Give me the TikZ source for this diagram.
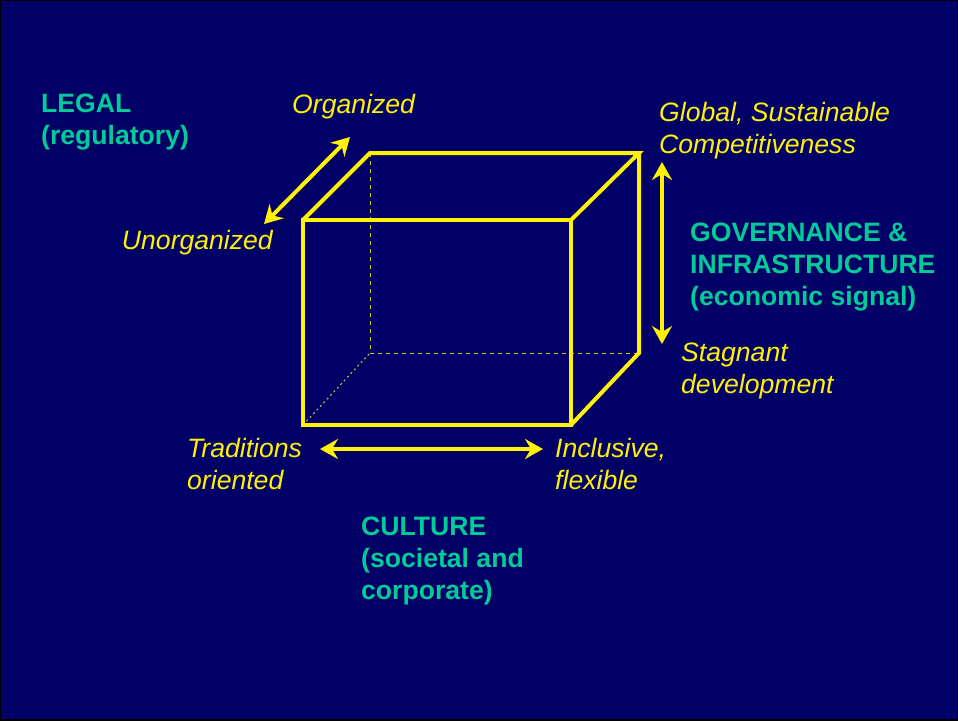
\documentclass[tikz,border=0pt]{standalone}
\usepackage{fontspec}
\setmainfont{Liberation Sans}
\usepackage{tikz}
\usetikzlibrary{arrows.meta}
\definecolor{navy}{RGB}{0,0,102}
\definecolor{labelteal}{RGB}{0,204,153}
\tikzset{
  edge/.style={draw=yellow, line width=4pt, line join=miter},
  hidden/.style={draw=yellow!80!navy, line width=1pt, dashed, dash pattern=on 4pt off 4pt},
  axis/.style={{Stealth[length=18pt,width=20pt,inset=6pt]}-{Stealth[length=18pt,width=20pt,inset=6pt]}, yellow, line width=4pt},
  pole/.style={anchor=north west, inner sep=0pt, text=yellow, align=left, font=\fontsize{26.6}{32}\selectfont\itshape},
  dimension/.style={anchor=north west, inner sep=0pt, text=labelteal, align=left, font=\fontsize{26.6}{32}\selectfont\bfseries},
}

\begin{document}
\begin{tikzpicture}[x=1pt, y=-1pt]
\useasboundingbox (0,0) rectangle (958,720);
\fill[navy, draw=black, line width=2pt] (0,0) rectangle (958,720);

%Cube corners
\coordinate (fbl) at (303,425);
\coordinate (fbr) at (571,425);
\coordinate (ftr) at (571,220);
\coordinate (ftl) at (303,220);
\coordinate (bbl) at (370,353);
\coordinate (bbr) at (639,353);
\coordinate (btr) at (639,153);
\coordinate (btl) at (370,153);

%Hidden edges
\draw[hidden] (btl) -- (bbl) -- (bbr);
\draw[hidden, dash pattern=on 2pt off 3pt] (fbl) -- (bbl);

%Visible edges
\draw[edge] (fbl) rectangle (ftr);
\draw[edge] (ftl) -- (btl) -- (btr) -- (ftr);
\draw[edge] (btr) -- (bbr) -- (fbr);

%Axis ends
\coordinate (unorg) at (264,224);
\coordinate (org) at (350,137);
\coordinate (trad) at (320,449);
\coordinate (incl) at (543,449);
\coordinate (glob) at (662,162);
\coordinate (stag) at (662,344);

%Axes
\draw[axis] (unorg) -- (org);
\draw[axis] (trad) -- (incl);
\draw[axis] (glob) -- (stag);

%Labels
\node[dimension] (legal) at (41,94) {LEGAL\\(regulatory)};
\node[dimension] (governance) at (690,223) {GOVERNANCE \&\\INFRASTRUCTURE\\(economic signal)};
\node[dimension] (culture) at (361,517) {CULTURE\\(societal and\\corporate)};

\node[pole] (organized) at (292,94) {Organized};
\node[pole, anchor=north east] (unorganized) at (273,230) {Unorganized};
\node[pole] (global) at (659,102) {Global, Sustainable\\Competitiveness};
\node[pole] (stagnant) at (681,343) {Stagnant\\development};
\node[pole] (traditions) at (187,438) {Traditions\\oriented};
\node[pole] (inclusive) at (555,438) {Inclusive,\\flexible};
\end{tikzpicture}
\end{document}
